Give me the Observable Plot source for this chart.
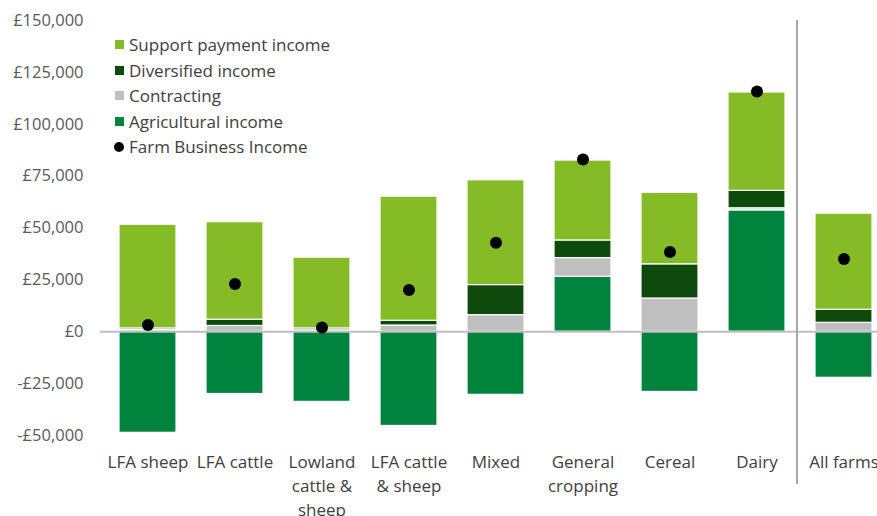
<!DOCTYPE html>
<html>
<head>
<meta charset="utf-8">
<script src="https://cdn.jsdelivr.net/npm/d3@7"></script>
<script src="https://cdn.jsdelivr.net/npm/@observablehq/plot@0.6"></script>
<style>
  html, body { margin: 0; padding: 0; background: #fff; }
  #wrap { position: relative; width: 877px; height: 516px; font-family: "Open Sans", "Noto Sans", sans-serif; }
  #legend { position: absolute; left: 113px; top: 32px; font-size: 17px; color: #404040; }
  #legend .row { display: flex; align-items: center; height: 25.5px; white-space: nowrap; }
  #legend .sw { width: 9px; height: 9px; margin-right: 5px; margin-left: 2px; }
  #legend .dot { width: 10px; height: 10px; border-radius: 50%; margin-right: 5px; margin-left: 1px; }
</style>
</head>
<body>
<div id="wrap"></div>
<script>
const categories = ["LFA sheep", "LFA cattle", "Lowland cattle & sheep", "LFA cattle & sheep", "Mixed", "General cropping", "Cereal", "Dairy", "All farms"];
const categoryLabels = ["LFA sheep", "LFA cattle", "Lowland\ncattle &\nsheep", "LFA cattle\n& sheep", "Mixed", "General\ncropping", "Cereal", "Dairy", "All farms"];
const agricultural = [-48700, -30000, -33800, -45400, -30400, 26500, -29000, 58500, -22200];
const contracting  = [800, 2800, 700, 3000, 8000, 9000, 16000, 1000, 4300];
const diversified  = [800, 3000, 900, 2300, 14500, 8500, 16500, 8400, 6300];
const support      = [50000, 47000, 34100, 59800, 50500, 38500, 34500, 47400, 46300];
const farmBusinessIncome = [3200, 23000, 2100, 20100, 42900, 83000, 38400, 115800, 35100];
const seriesNames = ["Support payment income", "Diversified income", "Contracting", "Agricultural income"];
const seriesColors = ["#84bb27", "#0f4a0d", "#bfbfbf", "#00843d"];
const fbiName = "Farm Business Income";
const yTicks = [-50000, -25000, 0, 25000, 50000, 75000, 100000, 125000, 150000];

// stacking order bottom-up: Agricultural, Contracting, Diversified, Support
const stackOrder = [
  ["Agricultural income", agricultural],
  ["Contracting", contracting],
  ["Diversified income", diversified],
  ["Support payment income", support]
];
const rows = [];
categories.forEach((c, i) => {
  stackOrder.forEach(([name, arr]) => rows.push({category: c, series: name, value: arr[i]}));
});
const fbiRows = categories.map((c, i) => ({category: c, value: farmBusinessIncome[i]}));
const labelOf = new Map(categories.map((c, i) => [c, categoryLabels[i]]));
const colorOf = new Map(seriesNames.map((s, i) => [s, seriesColors[i]]));

const fmt = v => (v < 0 ? "-" : "") + "£" + d3.format(",")(Math.abs(v));

const chart = Plot.plot({
  width: 877,
  height: 516,
  marginTop: 20,
  marginBottom: 81,
  marginLeft: 101,
  marginRight: 0,
  style: {fontFamily: "'Open Sans', 'Noto Sans', sans-serif", fontSize: "16px", color: "#595959", background: "#fff"},
  x: {domain: categories, range: [101, 889], paddingInner: 0.35, paddingOuter: 0.175, label: null},
  y: {domain: [-50000, 150000], label: null},
  marks: [
    Plot.barY(rows, Plot.stackY({
      x: "category",
      y: "value",
      z: "series",
      fill: d => colorOf.get(d.series),
      stroke: "white",
      strokeWidth: 1.2
    })),
    Plot.ruleY([0], {stroke: "#bfbfbf", strokeWidth: 2, insetLeft: -1}),
    Plot.ruleX(["All farms"], {stroke: "#a6a6a6", strokeWidth: 2, dx: -47, insetBottom: -49}),
    Plot.dot(fbiRows, {x: "category", y: "value", r: 6, fill: "black", stroke: "none"}),
    Plot.axisY({ticks: yTicks, tickFormat: fmt, tickSize: 0, tickPadding: 18, fill: "#595959", fontSize: 16.5}),
    Plot.axisX({tickSize: 0, tickPadding: 15, tickFormat: c => labelOf.get(c), lineHeight: 1.42, fill: "#404040", fontSize: 17})
  ]
});

const wrap = document.getElementById("wrap");
wrap.appendChild(chart);

const legend = document.createElement("div");
legend.id = "legend";
seriesNames.forEach((s, i) => {
  const row = document.createElement("div");
  row.className = "row";
  row.innerHTML = `<span class="sw" style="background:${seriesColors[i]}"></span><span>${s}</span>`;
  legend.appendChild(row);
});
const fr = document.createElement("div");
fr.className = "row";
fr.innerHTML = `<span class="dot" style="background:#000"></span><span>${fbiName}</span>`;
legend.appendChild(fr);
wrap.appendChild(legend);
</script>
</body>
</html>
